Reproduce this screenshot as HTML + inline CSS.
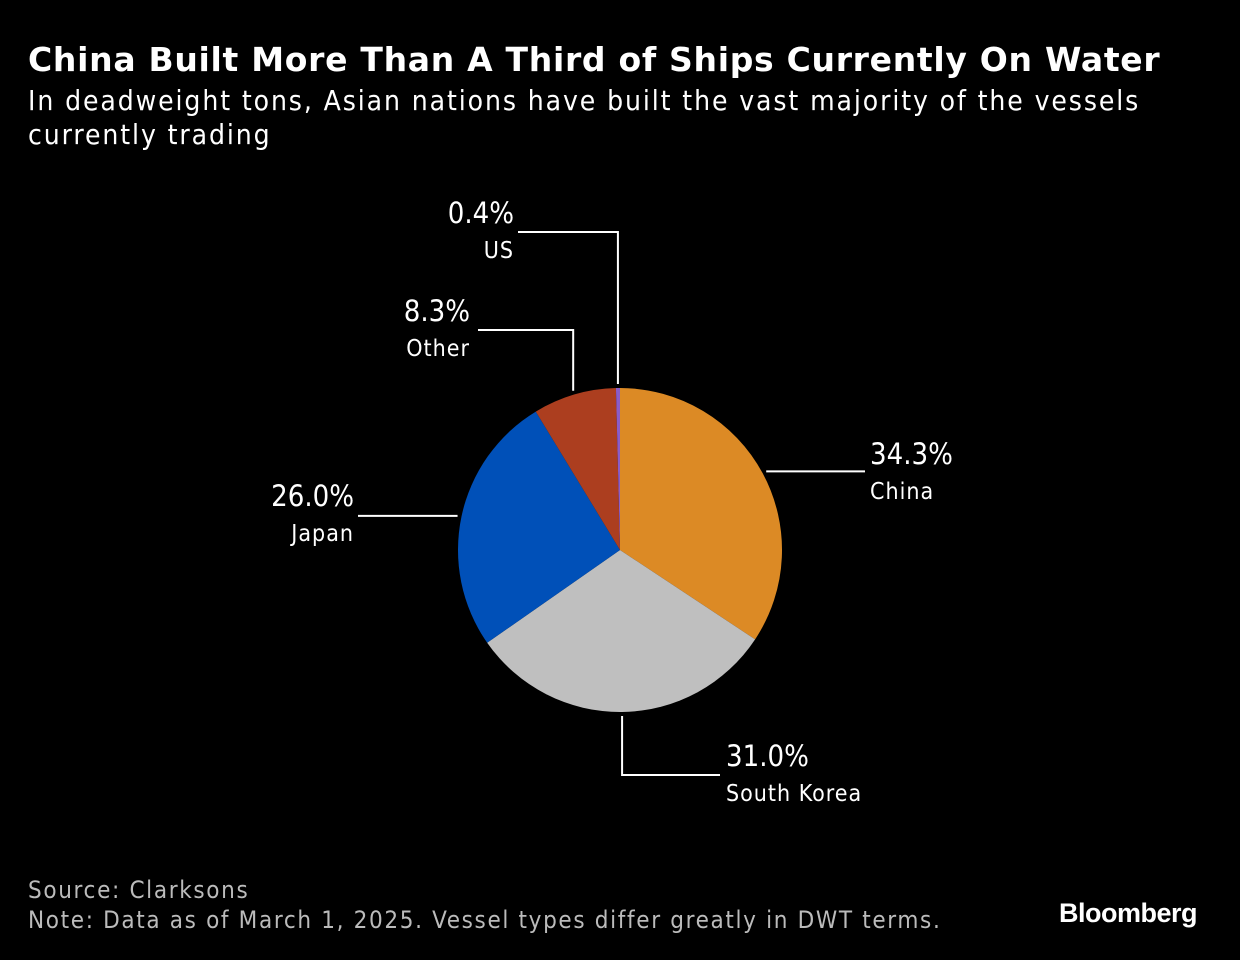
<!DOCTYPE html>
<html><head><meta charset="utf-8">
<style>
body{margin:0;background:#000;width:1240px;height:960px;overflow:hidden;font-family:"DejaVu Sans","Liberation Sans",sans-serif;color:#fff;}
#title{position:absolute;left:28px;top:40px;font-size:33px;font-weight:bold;white-space:nowrap;letter-spacing:0.7px}
#sub{position:absolute;left:28px;top:84px;font-size:28px;line-height:34px;width:1200px;letter-spacing:1.9px;font-family:"DejaVu Sans Condensed","DejaVu Sans",sans-serif}
#src{position:absolute;left:28px;top:875px;font-size:24px;line-height:30px;color:#bbb;letter-spacing:1.65px;font-family:"DejaVu Sans Condensed","DejaVu Sans",sans-serif}
#logo{position:absolute;left:1059px;top:898px;font-size:27px;font-weight:bold;font-family:"Liberation Sans",sans-serif;letter-spacing:-0.5px}
svg{position:absolute;left:0;top:0}
svg text{font-family:"DejaVu Sans Condensed","DejaVu Sans",sans-serif;fill:#fff}
</style></head><body>
<div id="title">China Built More Than A Third of Ships Currently On Water</div>
<div id="sub">In deadweight tons, Asian nations have built the vast majority of the vessels<br>currently trading</div>
<svg id="chart" width="1240" height="960"></svg>
<div id="src">Source: Clarksons<br>Note: Data as of March 1, 2025. Vessel types differ greatly in DWT terms.</div>
<div id="logo">Bloomberg</div>
<script>
const categories=["China","South Korea","Japan","Other","US"];
const values=[34.3,31.0,26.0,8.3,0.4];
const labels=["34.3%","31.0%","26.0%","8.3%","0.4%"];
const colors=["#dc8a25","#bfbfbf","#0050b8","#ac3e1f","#8a5cc8"];
const svg=document.getElementById('chart');
const NS="http://www.w3.org/2000/svg";
const cx=620,cy=550,r=162;
const total=values.reduce((a,b)=>a+b,0);
function pt(frac,rad){const a=frac*2*Math.PI;return [cx+rad*Math.sin(a),cy-rad*Math.cos(a)];}
let acc=0;const mids=[];
values.forEach((v,i)=>{
  const s=acc/total,e=(acc+v)/total;acc+=v;mids.push((s+e)/2);
  const p0=pt(s,r),p1=pt(e,r);
  const path=document.createElementNS(NS,'path');
  path.setAttribute('d',`M${cx},${cy}L${p0[0]},${p0[1]}A${r},${r} 0 ${e-s>0.5?1:0} 1 ${p1[0]},${p1[1]}Z`);
  path.setAttribute('fill',colors[i]);
  
  
  svg.appendChild(path);
});
function add(tag,attrs,name){const el=document.createElementNS(NS,tag);for(const k in attrs)el.setAttribute(k,attrs[k]);svg.appendChild(el);return el;}
const layout=[
 {type:'h',endX:865,tx:870,anchor:'start',ty:453},
 {type:'v',elbowY:775,endX:720,tx:726,anchor:'start',ty:755},
 {type:'h',endX:358,tx:354,anchor:'end',ty:495},
 {type:'v',elbowY:330,endX:478,tx:470,anchor:'end',ty:310},
 {type:'v',elbowY:232,endX:518,tx:514,anchor:'end',ty:212}
];
layout.forEach((L,i)=>{
  const p=pt(mids[i],r+4);
  let pts;
  if(L.type==='h'){pts=`${p[0]},${p[1]} ${L.endX},${p[1]}`;}
  else{pts=`${p[0]},${p[1]} ${p[0]},${L.elbowY} ${L.endX},${L.elbowY}`;}
  add('polyline',{points:pts,fill:'none',stroke:'#fff','stroke-width':2},'leader-'+i);
  const t1=add('text',{x:L.tx,y:L.ty+11,'text-anchor':L.anchor,'font-size':29},'value-label-'+i);t1.textContent=labels[i];
  const t2=add('text',{x:L.tx,y:L.ty+46,'text-anchor':L.anchor,'font-size':23,'letter-spacing':1},'category-label-'+i);t2.textContent=categories[i];
});
</script>
</body></html>
